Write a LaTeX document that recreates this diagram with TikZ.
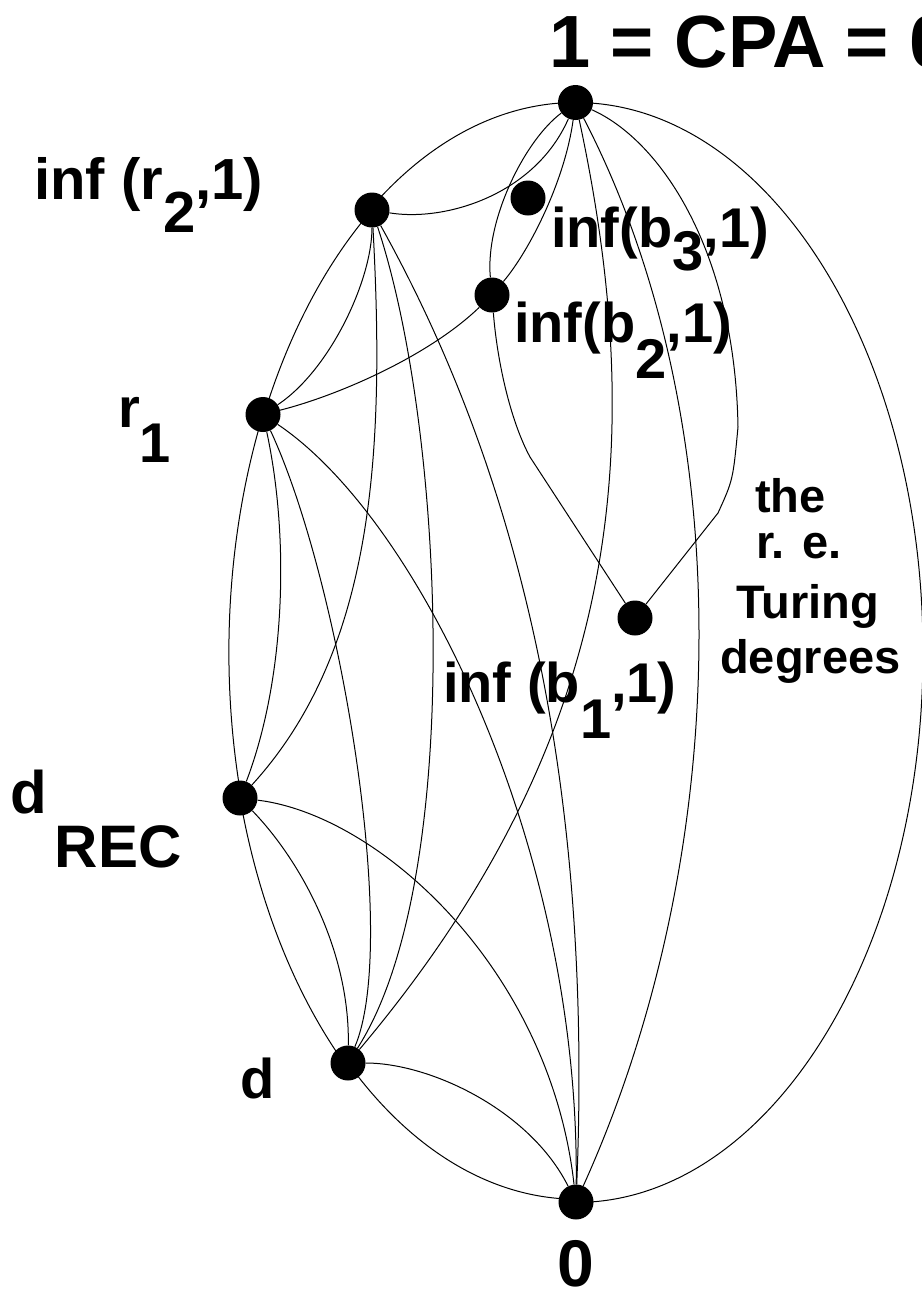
\documentclass[tikz,border=0pt]{standalone}
\usepackage{fontspec}
\setmainfont{Liberation Sans}
\pgfdeclarelayer{bg}
\pgfsetlayers{bg,main}
\newcommand\dn[2]{\raisebox{-#1pt}{#2}}
\begin{document}
\begin{tikzpicture}[x=1pt,y=1pt,
  dot/.style={circle,fill=black,inner sep=0pt,minimum size=35pt},
  edge/.style={line width=1pt},
  lbl/.style={font=\bfseries\fontsize{56}{60}\selectfont,inner sep=0pt,anchor=base west},
  small/.style={lbl,font=\bfseries\fontsize{47}{50}\selectfont},
  big/.style={lbl,font=\bfseries\fontsize{74}{80}\selectfont},
  rim/.style={x radius=347.5,y radius=550}]
\useasboundingbox (0,0) rectangle (921,-1293);
% nodes
\node[dot] (one) at (575.5,-102.5) {};
\node[dot] (rtwo) at (372,-210) {};
\node[dot] (bthree) at (528,-198) {};
\node[dot] (btwo) at (492,-295) {};
\node[dot] (rone) at (263,-414.5) {};
\node[dot] (bone) at (635,-618) {};
\node[dot] (drec) at (240,-798) {};
\node[dot] (d) at (348,-1063) {};
\node[dot] (zero) at (576,-1202) {};
\coordinate (kA) at (530,-457);
\coordinate (kB) at (718,-513);
\coordinate (kC) at (738,-427);
% connectors
\begin{pgfonlayer}{bg}
\draw[edge] (one.center) arc[rim,start angle=90,end angle=126.1];
\draw[edge] (rtwo.center) arc[rim,start angle=126.1,end angle=154.4];
\draw[edge] (rone.center) arc[rim,start angle=154.4,end angle=195.4];
\draw[edge] (drec.center) arc[rim,start angle=195.4,end angle=228.8];
\draw[edge] (d.center) arc[rim,start angle=228.8,end angle=270];
\draw[edge] (one.center) arc[rim,start angle=90,end angle=-90];
\draw[edge] (rtwo) .. controls (445,-222) and (535,-195) .. (one);
\draw[edge] (rtwo) .. controls (372,-280) and (330,-370) .. (rone);
\draw[edge] (rone) .. controls (290,-540) and (285,-680) .. (drec);
\draw[edge] (rtwo) .. controls (385,-450) and (375,-650) .. (drec);
\draw[edge] (rone) .. controls (340,-580) and (400,-940) .. (d);
\draw[edge] (rtwo) .. controls (445,-430) and (465,-880) .. (d);
\draw[edge] (rtwo) .. controls (500,-440) and (595,-740) .. (zero);
\draw[edge] (rone) .. controls (420,-520) and (580,-850) .. (zero);
\draw[edge] (drec) .. controls (300,-860) and (350,-950) .. (d);
\draw[edge] (drec) .. controls (380,-815) and (550,-970) .. (zero);
\draw[edge] (d) .. controls (430,-1063) and (530,-1110) .. (zero);
\draw[edge] (one) .. controls (650,-450) and (620,-740) .. (d);
\draw[edge] (one) .. controls (740,-420) and (735,-850) .. (zero);
\draw[edge] (rone) .. controls (340,-395) and (430,-355) .. (btwo);
\draw[edge] (one) .. controls (565,-180) and (530,-250) .. (btwo);
\draw[edge] (one) .. controls (525,-140) and (485,-220) .. (btwo);
\draw[edge] (btwo) .. controls (497,-360) and (510,-420) .. (kA) -- (bone);
\draw[edge] (bone) -- (kB) .. controls (733,-480) .. (kC) .. controls (735,-250) and (660,-140) .. (one);
\end{pgfonlayer}
% labels
\node[big] (ltop) at (549,-67) {1 = CPA = 0'};
\node[lbl,font=\bfseries\fontsize{58}{60}\selectfont] (lrtwo) at (34,-199) {inf (r\dn{33}{2},1)};
\node[lbl] (lbthree) at (551,-247) {inf(b\dn{23}{3},1)};
\node[lbl] (lbtwo) at (514,-342) {inf(b\dn{36}{2},1)};
\node[lbl] (lrone) at (118,-427) {r\dn{35}{1}};
\node[lbl,font=\bfseries\fontsize{60}{64}\selectfont] (ldrec) at (10,-813) {d\hspace{8pt}\dn{54}{REC}};
\node[lbl] (ld) at (240,-1098) {d};
\node[lbl,font=\bfseries\fontsize{66}{70}\selectfont] (lzero) at (557,-1286) {0};
\node[lbl] (lbone) at (443,-702) {inf (b\dn{36}{1},1)};
\node[small] (tA) at (755,-512) {the};
\node[small] (tB) at (756,-558) {r. e.};
\node[small] (tC) at (736,-618) {Turing};
\node[small] (tD) at (720,-673) {degrees};
\end{tikzpicture}
\end{document}
